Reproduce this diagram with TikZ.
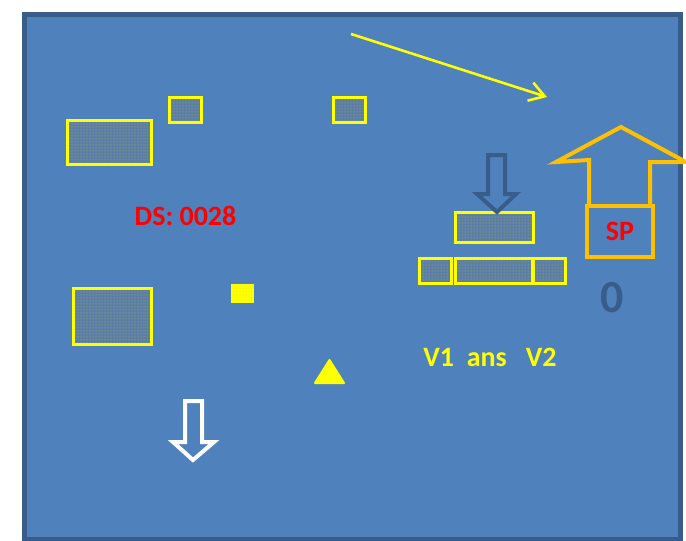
\documentclass[tikz,border=0pt]{standalone}
\usepackage{fontspec}
\setmainfont{Carlito}
\usepackage{xcolor}
\usetikzlibrary{arrows.meta,positioning,patterns}
\definecolor{bgblue}{RGB}{79,129,189}
\definecolor{rimblue}{RGB}{56,93,138}
\definecolor{boxbg}{RGB}{92,126,166}
\definecolor{yel}{RGB}{255,255,0}
\definecolor{org}{RGB}{255,192,0}
\definecolor{txtred}{RGB}{255,0,0}
\tikzset{
  dotbox/.style={draw=yel,line width=3pt,preaction={fill=boxbg},
                 pattern=dots,pattern color=yel!50!boxbg,inner sep=0pt},
  blockarrow/.style={line width=4pt,line join=miter},
  bigtext/.style={font=\fontsize{28}{30}\selectfont\bfseries,inner sep=0pt}
}

\begin{document}
\begin{tikzpicture}[x=1pt,y=-1pt]
\useasboundingbox (0,0) rectangle (686,541);
\draw[draw=rimblue,fill=bgblue,line width=5pt] (24,14) rectangle (680,539);

\node[dotbox,minimum width=84pt,minimum height=44pt] (boxA) at (109,142) {};
\node[dotbox,minimum width=32pt,minimum height=25pt] (boxB) at (185,109.5) {};
\node[dotbox,minimum width=32pt,minimum height=25pt] (boxC) at (349,109.5) {};
\node[dotbox,minimum width=78pt,minimum height=56pt] (boxD) at (112,316) {};
\node[draw=yel,line width=1pt,preaction={fill=yel},pattern=dots,
      pattern color=yel!75!gray,minimum width=22pt,minimum height=18pt,
      inner sep=0pt] (sq) at (242.5,293.5) {};
\node[dotbox,minimum width=78pt,minimum height=30pt] (top) at (494,227.5) {};
\node[dotbox,minimum width=32pt,minimum height=25pt] (rowL) at (435.5,270.5) {};
\node[dotbox,minimum width=77pt,minimum height=25pt] (rowM) at (494,270.5) {};
\node[dotbox,minimum width=32pt,minimum height=25pt] (rowR) at (549,270.5) {};

\fill[yel,draw=yel,line width=2pt,line join=round] (315,383) -- (344,383) -- (329.5,360) -- cycle;

\draw[blockarrow,white] (185,401) -- (202,401) -- (202,442) -- (214,442)
  -- (193,460) -- (173,442) -- (185,442) -- cycle;
\draw[blockarrow,rimblue] (488,155) -- (505,155) -- (505,194) -- (516,194)
  -- (497,212) -- (477,194) -- (488,194) -- cycle;

\node[draw=org,line width=4pt,minimum width=66pt,minimum height=51pt,
      bigtext,text=txtred] (sp) at (620,231.5) {SP};
\draw[blockarrow,org] (sp.north west) ++(4,0) -- ++(0,-44) -- (556,162)
  -- (621,127) -- (686,162) -- (650,162) -- (650,206);

\node[bigtext,text=txtred,anchor=base] (ds) at (185.5,225) {DS: 0028};
\node[bigtext,text=yel,anchor=base] (vv) at (490,366) {V1~~ans~~~V2};
\node[font=\fontsize{46}{48}\selectfont\bfseries,text=rimblue,inner sep=0pt]
  (zero) at (612.5,297.5) {0};

\coordinate (tailY) at (351,34);
\coordinate (tipY) at (547,97);
\draw[yel,line width=2.6pt,-{Straight Barb[length=15pt,width=19pt]}] (tailY) -- (tipY);
\end{tikzpicture}
\end{document}
